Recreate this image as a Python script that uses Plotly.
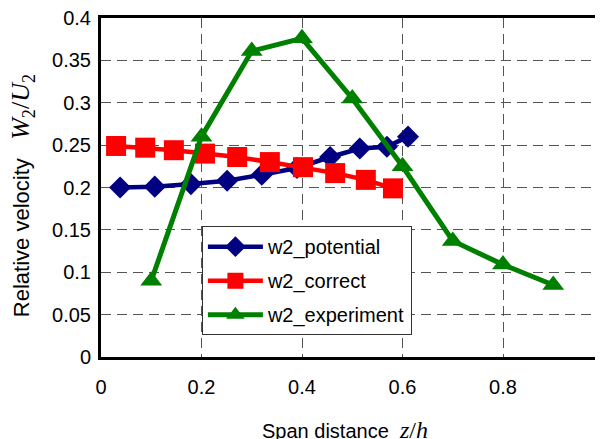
import plotly.graph_objects as go

# ---- data ----
pot_x = [0.038, 0.107, 0.179, 0.251, 0.320, 0.390, 0.456, 0.515, 0.569, 0.611]
pot_y = [0.200, 0.201, 0.204, 0.208, 0.215, 0.223, 0.236, 0.246, 0.248, 0.260]

cor_x = [0.030, 0.088, 0.145, 0.207, 0.271, 0.336, 0.402, 0.466, 0.527, 0.581]
cor_y = [0.249, 0.247, 0.244, 0.240, 0.236, 0.230, 0.224, 0.217, 0.209, 0.199]

exp_x = [0.1, 0.2, 0.3, 0.4, 0.5, 0.6, 0.7, 0.8, 0.9]
exp_y = [0.090, 0.260, 0.361, 0.376, 0.305, 0.225, 0.137, 0.109, 0.085]

x_ticks = [0, 0.2, 0.4, 0.6, 0.8]
x_tick_text = ["0", "0.2", "0.4", "0.6", "0.8"]
y_ticks = [0, 0.05, 0.1, 0.15, 0.2, 0.25, 0.3, 0.35, 0.4]
y_tick_text = ["0", "0.05", "0.1", "0.15", "0.2", "0.25", "0.3", "0.35", "0.4"]

SANS = "Arial, Liberation Sans, sans-serif"
SERIF = "Times New Roman, Liberation Serif, serif"

fig = go.Figure()
fig.add_trace(go.Scatter(
    x=pot_x, y=pot_y, name="w2_potential", mode="lines+markers", legendgroup="a",
    line=dict(color="#000080", width=4.5),
    marker=dict(symbol="diamond", size=17, color="#000080", line=dict(width=0))))
fig.add_trace(go.Scatter(
    x=cor_x, y=cor_y, name="w2_correct", mode="lines+markers", legendgroup="b",
    line=dict(color="#FF0000", width=4.5),
    marker=dict(symbol="square", size=20, color="#FF0000", line=dict(width=0))))
fig.add_trace(go.Scatter(
    x=exp_x, y=exp_y, name="w2_experiment", mode="lines+markers", legendgroup="c",
    line=dict(color="#008000", width=5),
    marker=dict(symbol="triangle-up", size=19, color="#008000", line=dict(width=0))))

GRID = "#555555"
fig.update_layout(
    width=595, height=431,
    margin=dict(l=93, r=0, t=10, b=82),
    paper_bgcolor="white", plot_bgcolor="white",
    font=dict(family=SANS, size=20, color="black"),
    showlegend=True,
    legend=dict(x=0.201, y=0.386, xanchor="left", yanchor="top",
                bgcolor="white", bordercolor="#333333", borderwidth=1,
                font=dict(family=SANS, size=20, color="black"),
                itemwidth=55, traceorder="grouped", tracegroupgap=5),
    xaxis=dict(range=[0, 0.999], tickvals=x_ticks, ticktext=x_tick_text,
               showgrid=True, gridcolor=GRID, gridwidth=1, griddash="10px,6px",
               showline=True, linecolor="black", linewidth=3, mirror=True,
               ticks="", ticklabelstandoff=10, zeroline=False,
               ticklabeloverflow="allow",
               tickfont=dict(family=SANS, size=20, color="black")),
    yaxis=dict(range=[0, 0.4], tickvals=y_ticks, ticktext=y_tick_text,
               showgrid=True, gridcolor=GRID, gridwidth=1, griddash="10px,6px",
               showline=True, linecolor="black", linewidth=3, mirror=False,
               ticks="", ticklabelstandoff=3, zeroline=False,
               ticklabeloverflow="allow",
               tickfont=dict(family=SANS, size=20, color="black")),
)

# partially visible "1" tick at the clipped right edge
fig.add_annotation(x=1.003, y=-0.086, xref="paper", yref="paper", text="1",
                   showarrow=False, font=dict(family=SANS, size=20, color="black"),
                   xanchor="center", yanchor="middle")

# axis titles
fig.add_annotation(
    x=0.486, y=-0.214, xref="paper", yref="paper", showarrow=False,
    xanchor="center", yanchor="middle",
    text="Span distance\u00a0\u00a0<span style='font-family:" + SERIF + "; font-size:24px'><i>z</i>/<i>h</i></span>",
    font=dict(family=SANS, size=20, color="black"))
fig.add_annotation(
    x=-0.157, y=0.475, xref="paper", yref="paper", showarrow=False, textangle=-90,
    xanchor="center", yanchor="middle",
    text="Relative velocity\u00a0\u00a0\u00a0<span style='font-family:" + SERIF + "; font-size:26px'><i>W</i><sub>2</sub>/<i>U</i><sub>2</sub></span>",
    font=dict(family=SANS, size=22, color="black"))

fig.write_html("out.html")
